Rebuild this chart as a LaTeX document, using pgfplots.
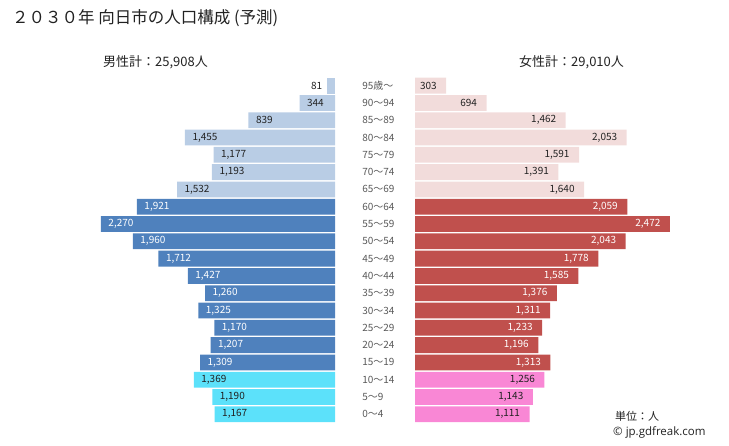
\documentclass[border=0pt]{standalone}
\usepackage{fontspec}
\setmainfont{Noto Sans CJK JP}
\newfontfamily\latinfont{Open Sans}
\usepackage{pgfplots}
\pgfplotsset{compat=1.18}
\definecolor{mold}{HTML}{B9CDE5}
\definecolor{mwork}{HTML}{4F81BD}
\definecolor{myoung}{HTML}{5CE1FA}
\definecolor{fold}{HTML}{F2DCDB}
\definecolor{fwork}{HTML}{C0504D}
\definecolor{fyoung}{HTML}{F987D5}
\definecolor{txt}{HTML}{222222}
\definecolor{agetxt}{HTML}{595959}
\pgfplotsset{
  pyr/.style={
    scale only axis, height=346bp, ymin=-0.5, ymax=19.5, xmin=0,
    xbar, bar width=15.8bp, bar shift=0pt, clip=false,
    nodes near coords,
    /pgf/number format/.cd, fixed, precision=0, 1000 sep={,}, assume math mode=true,
    /pgfplots/.cd,
    nodes near coords style={font=\fontsize{10bp}{12bp}\selectfont},
  }
}
\begin{document}
\begin{tikzpicture}
\path[use as bounding box] (0,0) rectangle (729bp,-446bp);
\node[anchor=west, text=txt, font=\fontsize{16.5bp}{19bp}\selectfont, inner sep=0pt] at (12bp,-18bp) {２０３０年 向日市の人口構成 (予測)};
\node[anchor=west, text=txt, font=\fontsize{13bp}{15bp}\selectfont, inner sep=0pt] at (103bp,-62bp) {男性計：25,908人};
\node[anchor=west, text=txt, font=\fontsize{13bp}{15bp}\selectfont, inner sep=0pt] at (519bp,-62bp) {女性計：29,010人};
\node[anchor=west, text=txt, font=\fontsize{11bp}{13bp}\selectfont, inner sep=0pt] at (615bp,-416bp) {単位：人};
\node[anchor=west, text=txt, font=\fontsize{11.5bp}{13bp}\latinfont, inner sep=0pt] at (613bp,-432bp) {© jp.gdfreak.com};
% male
\begin{axis}[pyr, width=250bp, xmax=2424.8, x dir=reverse, hide axis,
  at={(335bp,-422.95bp)}, anchor=south east,
  every node near coord/.append style={anchor=west, xshift=4bp, text=txt}]
\addplot[fill=mold, draw=none] coordinates {(1532,13) (1193,14) (1177,15) (1455,16) (839,17) (344,18)};
\addplot[fill=mwork, draw=none, every node near coord/.append style={text=white}] coordinates {(1309,3) (1207,4) (1170,5) (1325,6) (1260,7) (1427,8) (1712,9) (1960,10) (2270,11) (1921,12)};
\addplot[fill=myoung, draw=none] coordinates {(1167,0) (1190,1) (1369,2)};
\addplot[fill=mold, draw=none, every node near coord/.append style={anchor=east, xshift=-5bp}] coordinates {(81,19)};
\end{axis}
% female
\begin{axis}[pyr, width=290bp, xmax=2812.8, hide x axis,
  axis y line*=left, y axis line style={draw=none}, ytick style={draw=none},
  ytick={0,...,19},
  yticklabels={0～4,5～9,10～14,15～19,20～24,25～29,30～34,35～39,40～44,45～49,50～54,55～59,60～64,65～69,70～74,75～79,80～84,85～89,90～94,95歳～},
  yticklabel style={anchor=west, xshift=-52bp, text=agetxt, font=\fontsize{10bp}{12bp}\selectfont},
  at={(415bp,-422.95bp)}, anchor=south west,
  every node near coord/.append style={anchor=east, xshift=-6bp, text=txt}]
\addplot[fill=fold, draw=none] coordinates {(1640,13) (1391,14) (1591,15) (2053,16) (1462,17) (694,18) (303,19)};
\addplot[fill=fwork, draw=none, every node near coord/.append style={text=white}] coordinates {(1313,3) (1196,4) (1233,5) (1311,6) (1376,7) (1585,8) (1778,9) (2043,10) (2472,11) (2059,12)};
\addplot[fill=fyoung, draw=none] coordinates {(1111,0) (1143,1) (1256,2)};
\end{axis}
\end{tikzpicture}
\end{document}
